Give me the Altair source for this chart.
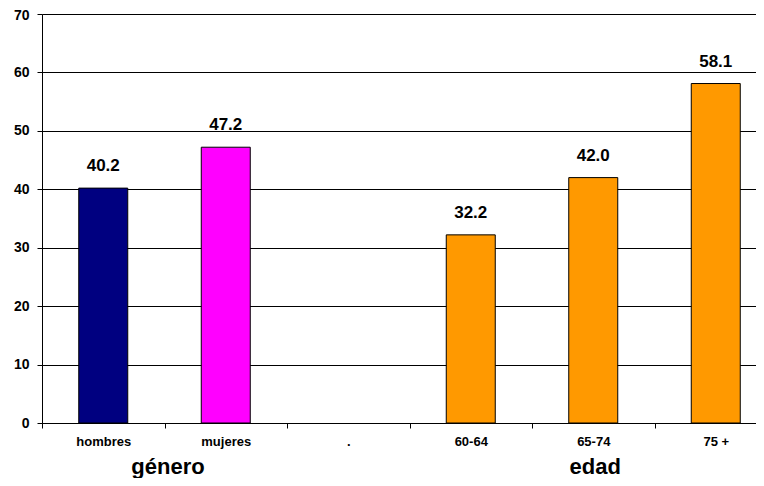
import altair as alt
import pandas as pd

categories = ["hombres", "mujeres", ".", "60-64", "65-74", "75 +"]
values = [40.2, 47.2, None, 32.2, 42.0, 58.1]
colors = ["#000080", "#FF00FF", "#FFFFFF", "#FF9900", "#FF9900", "#FF9900"]
group_labels = ["género", "edad"]
group_anchor = ["hombres", "65-74"]

df = pd.DataFrame({"cat": categories, "val": values, "color": colors})
df["label"] = [f"{v:.1f}" if v is not None and v == v else "" for v in values]
bars_df = df.dropna(subset=["val"])

FONT = "Liberation Sans"
FULL_W = 735
W, H = 714, 409
step = FULL_W / 6.0

xscale = alt.Scale(domain=categories, paddingInner=0.6, paddingOuter=0.3, range=[0, FULL_W])
xaxis = alt.Axis(title=None, labelFont=FONT, labelFontWeight="bold", labelFontSize=13,
                 labelColor="black", tickColor="black", tickSize=5, tickOffset=-step / 2,
                 labelOffset=step / 2, domainColor="black", labelPadding=7, labelAngle=0,
                 grid=False)
yaxis = alt.Axis(title=None, values=[0, 10, 20, 30, 40, 50, 60, 70], labelFont=FONT,
                 labelFontWeight="bold", labelFontSize=14, labelColor="black",
                 tickColor="black", tickSize=5, domainColor="black", grid=True,
                 gridColor="black", gridOpacity=1, gridWidth=1, labelPadding=8,
                 labelOffset={"condition": {"test": "datum.value == 70", "value": 1}, "value": 0})
yscale = alt.Scale(domain=[0, 70], nice=False)

bars = alt.Chart(bars_df).mark_bar(stroke="black", strokeWidth=1).encode(
    x=alt.X("cat:N", scale=xscale, axis=xaxis, sort=categories),
    y=alt.Y("val:Q", scale=yscale, axis=yaxis),
    color=alt.Color("color:N", scale=None),
)

labels = alt.Chart(bars_df).mark_text(font=FONT, fontWeight="bold", fontSize=17,
                                      dy=-22, color="black").encode(
    x=alt.X("cat:N", scale=xscale, sort=categories),
    y=alt.Y("val:Q", scale=yscale),
    text="label:N",
)

g1 = alt.Chart(pd.DataFrame({"cat": [group_anchor[0]], "t": [group_labels[0]]})).mark_text(
    font=FONT, fontWeight="bold", fontSize=22, color="black", baseline="alphabetic",
    dx=step / 2 + 3.5
).encode(x=alt.X("cat:N", scale=xscale, sort=categories), y=alt.value(H + 51), text="t:N")

g2 = alt.Chart(pd.DataFrame({"cat": [group_anchor[1]], "t": [group_labels[1]]})).mark_text(
    font=FONT, fontWeight="bold", fontSize=22, color="black", baseline="alphabetic", dx=2
).encode(x=alt.X("cat:N", scale=xscale, sort=categories), y=alt.value(H + 51), text="t:N")

chart = alt.layer(bars, labels, g1, g2).properties(
    width=W, height=H,
    autosize=alt.AutoSizeParams(type="none"),
    padding={"left": 34, "top": 6, "right": 0, "bottom": 55},
).configure_view(stroke=None).configure(background="white")

chart.save("out.html", embed_options={"renderer": "svg", "actions": False})
